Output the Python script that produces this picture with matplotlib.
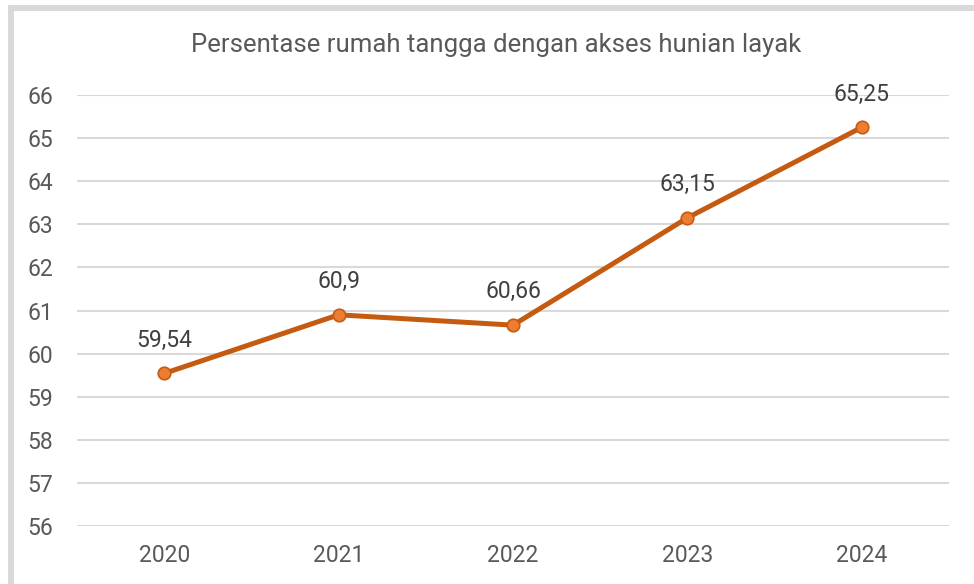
import matplotlib
matplotlib.use("Agg")
import matplotlib.pyplot as plt
from matplotlib.lines import Line2D

years = ["2020", "2021", "2022", "2023", "2024"]
values = [59.54, 60.9, 60.66, 63.15, 65.25]
yticks = [56, 57, 58, 59, 60, 61, 62, 63, 64, 65, 66]
title = "Persentase rumah tangga dengan akses hunian layak"

plt.rcParams["font.family"] = ["Roboto", "DejaVu Sans"]
TXT = "#595959"
GRID = "#d9d9d9"

W, H = 974, 584
fig = plt.figure(figsize=(W / 100, H / 100), dpi=100)
ax = fig.add_axes([77 / W, 58 / H, (949 - 77) / W, (526 - 95) / H])

x = list(range(len(years)))
ax.plot(x, values, color="#C55A11", lw=3.6, marker="o", ms=9,
        mfc="#ED7D31", mec="#C55A11", mew=1.2, zorder=3, solid_capstyle="round")
for xi, v in zip(x, values):
    ax.annotate(f"{v:g}".replace(".", ","), xy=(xi, v), xytext=(0, 24),
                textcoords="offset points", ha="center", va="center",
                fontsize=16.5, color="#404040")

ax.set_xlim(-0.5, len(years) - 0.5)
ax.set_ylim(56, 66)
ax.set_yticks(yticks)
ax.set_xticks(x)
ax.set_xticklabels(years)
ax.tick_params(length=0, labelsize=16.5, labelcolor=TXT)
ax.tick_params(axis="y", pad=17)
ax.tick_params(axis="x", pad=13)
ax.grid(axis="y", color=GRID, lw=1.5)
ax.set_axisbelow(True)
for s in ax.spines.values():
    s.set_visible(False)

fig.text(496 / W, 1 - 45 / H, title, ha="center", va="center", fontsize=18.5,
         color=TXT)

# chart frame (top and left edges visible)
fig.add_artist(Line2D([8 / W, 1], [1 - 8 / H] * 2, color=GRID, lw=4.3,
                      transform=fig.transFigure, solid_capstyle="butt"))
fig.add_artist(Line2D([11 / W] * 2, [0, 1 - 5 / H], color=GRID, lw=4.3,
                      transform=fig.transFigure, solid_capstyle="butt"))

fig.savefig("out.png", dpi=100)
